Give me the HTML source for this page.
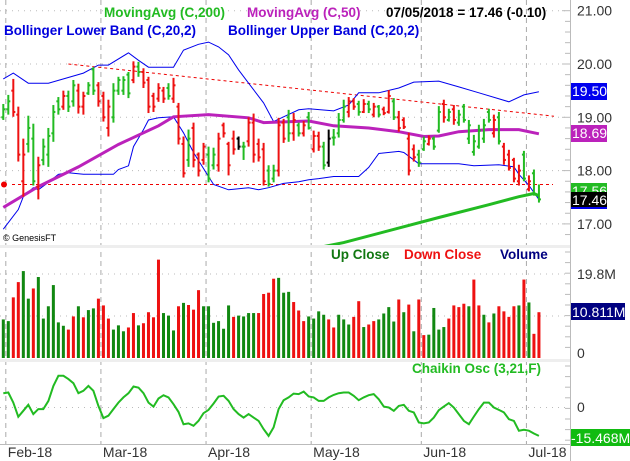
<!DOCTYPE html>
<html><head><meta charset="utf-8"><style>
body{margin:0;background:#fff;}
svg{display:block;font-family:"Liberation Sans",Arial,sans-serif;}
</style></head><body>
<svg id="chart" width="630" height="461" viewBox="0 0 630 461" xmlns="http://www.w3.org/2000/svg">
<defs>
<clipPath id="cp"><rect x="0" y="0" width="570" height="245"/></clipPath>
<clipPath id="cv"><rect x="0" y="248" width="570" height="111"/></clipPath>
<clipPath id="cc"><rect x="0" y="362" width="570" height="82"/></clipPath>
</defs>
<rect x="0" y="0" width="630" height="461" fill="#fff"/>
<g id="grid"></g>
<g id="overlays" clip-path="url(#cp)"></g>
<g id="bars" clip-path="url(#cp)"></g>
<g id="vol" clip-path="url(#cv)"></g>
<g id="chk" clip-path="url(#cc)"></g>
<g id="axes"></g>
<g font-weight="bold" font-size="13.5">
<text x="104" y="17" fill="#22bb22">MovingAvg (C,200)</text>
<text x="247" y="17" fill="#bb22bb">MovingAvg (C,50)</text>
<text x="386" y="17" fill="#000">07/05/2018 = 17.46 (-0.10)</text>
<text x="4" y="35" fill="#0000dd">Bollinger Lower Band (C,20,2)</text>
<text x="228" y="35" fill="#0000dd">Bollinger Upper Band (C,20,2)</text>
<text x="331" y="259" fill="#117711">Up Close</text>
<text x="404" y="259" fill="#ee1111">Down Close</text>
<text x="500" y="259" fill="#000080">Volume</text>
<text x="412" y="373" fill="#22bb22">Chaikin Osc (3,21,F)</text>
</g>
<text x="3" y="241" font-size="9" fill="#000">© GenesisFT</text>
</svg>
<script>
const hi=[19.25,19.42,19.72,19.2,18.6,19.03,18.88,18.26,18.6,18.8,19.23,19.38,19.5,19.5,19.7,19.63,19.48,19.66,19.94,19.66,19.48,19.33,19.64,19.76,19.77,19.85,20.05,20.04,19.92,19.76,19.46,19.64,19.57,19.64,19.74,19.27,18.64,18.77,18.9,18.34,18.52,18.45,18.43,18.71,18.9,18.54,18.75,18.64,18.54,19.0,19.07,18.6,18.52,18.1,18.11,18.99,18.97,19.14,19.08,18.9,18.93,19.1,18.75,18.73,18.54,18.77,18.78,19.08,19.33,19.38,19.36,19.31,19.34,19.31,19.27,19.23,19.2,19.51,19.36,19.12,19.0,18.71,18.49,18.39,18.64,18.66,18.64,19.21,19.33,19.16,19.23,19.14,19.25,18.95,18.67,18.86,18.97,19.16,19.05,19.1,18.52,18.39,18.24,18.11,18.37,17.91,18.02,17.74];
const lo=[18.95,19.05,19.01,18.17,17.51,18.34,17.72,17.46,18.1,18.07,18.54,19.05,19.14,19.1,19.2,19.07,19.05,19.42,19.42,19.2,18.92,18.64,18.9,19.42,19.42,19.36,19.64,19.76,19.55,19.08,19.1,19.29,19.27,19.33,19.27,18.49,17.87,18.07,18.06,17.89,18.11,17.78,18.02,17.98,18.62,17.91,18.3,18.39,18.2,18.45,18.15,18.17,17.72,17.7,17.78,17.89,18.52,18.54,18.56,18.64,18.64,18.77,18.34,18.37,18.02,18.07,18.47,18.62,18.9,19.0,19.14,19.03,19.08,19.08,19.0,19.0,19.04,19.07,18.95,18.73,18.78,17.91,18.17,18.07,18.37,18.47,18.39,18.71,18.9,18.92,18.86,18.84,18.9,18.5,18.28,18.41,18.52,18.9,18.62,18.49,18.11,18.0,17.78,17.72,17.8,17.61,17.53,17.4];
const op=[19.0,19.15,19.5,19.05,17.8,18.5,18.6,17.7,18.2,18.3,18.7,19.3,19.2,19.4,19.3,19.5,19.2,19.45,19.9,19.6,19.4,18.8,19.0,19.5,19.5,19.8,19.7,19.95,19.85,19.7,19.4,19.35,19.5,19.55,19.35,19.2,18.5,18.2,18.8,18.3,18.2,18.3,18.1,18.1,18.85,18.5,18.6,18.6,18.45,18.55,18.9,18.5,18.4,18.0,17.85,18.0,18.9,19.0,18.7,18.85,18.7,19.0,18.4,18.65,18.45,18.15,18.62,18.7,18.95,19.1,19.3,19.25,19.1,19.25,19.05,19.2,19.15,19.1,19.3,19.0,18.95,18.6,18.4,18.3,18.4,18.5,18.6,18.75,19.25,18.95,19.15,18.9,19.2,18.6,18.35,18.45,18.6,19.1,18.7,19.0,18.45,18.3,18.2,17.8,18.3,17.65,17.95,17.55];
const cl=[19.15,19.3,19.1,18.3,18.3,18.8,17.8,18.1,18.45,18.65,19.1,19.15,19.4,19.2,19.6,19.2,19.4,19.6,19.5,19.3,19.0,19.2,19.5,19.7,19.7,19.45,19.95,19.85,19.65,19.2,19.2,19.55,19.35,19.4,19.6,18.6,17.95,18.6,18.2,18.0,18.45,17.85,18.3,18.6,18.7,18.1,18.4,18.45,18.45,18.9,18.3,18.25,17.8,17.75,18.0,18.85,18.6,18.7,18.95,18.7,18.85,18.8,18.65,18.45,18.1,18.6,18.62,18.95,19.2,19.3,19.2,19.1,19.25,19.15,19.2,19.05,19.08,19.4,19.0,18.8,18.82,18.0,18.25,18.15,18.55,18.6,18.45,19.1,19.0,19.1,18.95,19.05,18.95,18.85,18.55,18.75,18.85,18.95,18.95,18.55,18.2,18.05,17.85,18.0,17.85,17.8,17.56,17.46];
const dir="uuddduuduuuuduudduuddduuuududdddduddduddduuddddnudddduuddudududdunuuuddudududdudddduuduududuuuuuuududddduduu".split("");
const vol=[9.1,8.7,14.3,17.9,20.5,14.0,16.4,19.1,9.3,12.2,17.2,8.4,7.6,6.7,9.8,12.2,9.6,11.3,11.7,14.0,12.4,9.3,6.7,7.7,6.3,7.2,10.6,7.7,8.2,10.8,9.6,23.2,10.6,10.0,6.5,12.2,13.0,12.5,11.4,16.0,12.2,12.2,8.3,8.7,6.9,12.4,9.7,10.0,9.8,10.6,10.6,10.6,15.1,15.4,18.7,18.9,15.4,15.6,13.2,11.2,8.7,9.8,9.3,11.0,10.2,9.1,7.2,10.2,9.1,7.9,9.7,13.4,7.3,7.9,8.7,9.1,10.5,12.0,8.6,13.8,10.8,12.6,6.3,13.8,5.4,5.5,11.8,6.7,7.3,9.3,12.4,12.0,12.8,12.2,18.5,12.4,10.2,8.4,10.5,12.2,11.0,9.7,12.2,12.4,18.5,13.1,5.7,10.8];
const volColor="ggrrggrggggggrrgrggrrrgggrrgrrrrgggrgrrrggggggrggggrrrrgggrrrggggrrgggrrgrrggggrgrgrrggggrrrrgrrgrgrrrrgrgrr".split("");
const chaikin=[7.8,8.2,2.7,-5.1,-1.8,1.5,-3.6,-0.9,-0.9,3.6,11.8,17.3,17.3,15.5,13.3,7.8,9.1,11.8,9.1,0.9,-5.8,-4.5,-0.9,2.7,5.5,7.8,11.5,10.9,7.8,2.7,0.5,4.9,6.7,5.5,1.8,-2.4,-9.1,-8.7,-10.0,-7.3,-3.1,-1.3,2.2,6.0,6.4,3.6,-0.9,-3.6,-5.5,-3.6,-5.5,-7.3,-11.8,-15.5,-10.9,-0.9,4.0,5.5,7.6,7.3,8.7,6.0,5.5,3.6,3.6,5.5,6.9,7.8,8.2,8.2,6.4,4.0,5.5,6.7,7.3,4.5,0.5,0,-1.8,0.9,1.5,-1.8,-2.7,-8.2,-8.7,-8.2,-5.5,-1.5,0.5,2.4,0,-3.6,-7.3,-9.1,-4.9,-0.9,2.7,2.7,0,-1.3,-2.7,-6.4,-7.3,-12.7,-12.2,-12.7,-14.2,-15.5];
const ma50Idx=[0,7,15,23,31,34,41,49,52,61,66,73,79,84,87,91,97,103,107];
const ma50Val=[17.31,17.70,18.07,18.49,18.84,19.01,19.05,18.99,18.90,18.93,18.84,18.80,18.73,18.64,18.65,18.73,18.77,18.77,18.69];
const ma200Idx=[60,68,87,97,103,106,107];
const ma200Val=[16.5,16.65,17.12,17.36,17.51,17.57,17.53];
const upIdx=[0,2,5,9,16,19,21,25,27,29,34,36,39,41,43,45,47,49,52,54,56,59,61,66,69,71,75,79,82,87,91,95,101,104,107];
const upVal=[19.72,19.83,19.64,19.64,19.83,19.98,19.98,20.21,20.07,19.94,19.94,20.26,20.37,20.41,20.32,20.17,19.89,19.64,19.27,18.92,19.01,19.14,19.16,19.12,19.23,19.46,19.46,19.55,19.66,19.68,19.57,19.46,19.29,19.42,19.48];
const lowIdx=[0,3,4,6,7,9,11,13,16,22,23,25,26,28,29,31,34,36,38,41,42,45,49,51,53,56,59,61,63,66,71,73,75,79,80,83,86,91,94,99,102,103,105,107];
const lowVal=[16.90,17.27,17.51,17.68,17.64,17.78,17.93,17.96,17.93,17.93,18.02,18.09,18.45,18.77,18.95,18.99,19.01,18.71,18.34,17.89,17.74,17.64,17.68,17.64,17.68,17.76,17.79,17.83,17.85,17.89,17.89,18.06,18.32,18.36,18.34,18.13,18.13,18.13,18.09,18.11,18.07,17.93,17.72,17.46];
const priceTicks=[21,20,19,18,17];
const priceTickLabels=["21.00","20.00","19.00","18.00","17.00"];
const monthIdx=[0.5,19.5,40.5,61.5,83.5,104.5];
const monthLabels=["Feb-18","Mar-18","Apr-18","May-18","Jun-18","Jul-18"];
const trendIdx=[13,110];const trendVal=[20.0,19.02];
const supportVal=17.74;

const NS="http://www.w3.org/2000/svg";
const X=i=>3.3+i*5.006;
const PY=p=>64+(20-p)*53.3;
const VY=v=>358-v*4.24;
const CY=c=>407.5-c*1.83;
function mk(t,a,parent){const e=document.createElementNS(NS,t);for(const k in a)e.setAttribute(k,a[k]);parent.appendChild(e);return e;}
const G=id=>document.getElementById(id);
const grid=G('grid'),ov=G('overlays'),bars=G('bars'),volg=G('vol'),chk=G('chk'),axes=G('axes');

// grid
priceTicks.forEach(p=>{const l=mk('line',{x1:0,x2:570,y1:PY(p),y2:PY(p),stroke:'#bbb','stroke-dasharray':'1,5'},grid);

});
[19.8,9.9].forEach(v=>{const l=mk('line',{x1:0,x2:570,y1:VY(v),y2:VY(v),stroke:'#bbb','stroke-dasharray':'1,5'},grid);

});
{const l=mk('line',{x1:0,x2:570,y1:CY(0),y2:CY(0),stroke:'#bbb','stroke-dasharray':'1,5'},grid);

}
monthIdx.forEach((m,k)=>{const x=X(m);const l=mk('line',{x1:x,x2:x,y1:0,y2:444,stroke:'#aaa','stroke-dasharray':'5,4'},grid);


const t=mk('text',{x:x+2,y:457,'font-size':14,fill:'#333'},axes);t.textContent=monthLabels[k];

});
// separators
[246,360].forEach(y=>{const r=mk('rect',{x:0,y:y-1,width:570,height:3,fill:'#eee'},grid);

});
{const r=mk('line',{x1:0,x2:570,y1:444.5,y2:444.5,stroke:'#bbb'},grid);

}

// overlays
function poly(idx,val,color,w,name,dash){const pts=idx.map((ii,k)=>X(ii).toFixed(1)+','+PY(val[k]).toFixed(1)).join(' ');
const e=mk('polyline',{points:pts,fill:'none',stroke:color,'stroke-width':w},ov);if(dash)e.setAttribute('stroke-dasharray',dash);

}
poly(trendIdx,trendVal,'#e00',1,'resistance-trendline','3,3');
{const e=mk('line',{x1:12,x2:553,y1:PY(supportVal),y2:PY(supportVal),stroke:'#e00','stroke-dasharray':'3,3'},ov);


const c=mk('circle',{cx:4,cy:PY(supportVal),r:3,fill:'#e00'},ov);

}
poly(upIdx,upVal,'#0000ee',1,'bollinger-upper-band');
poly(lowIdx,lowVal,'#0000ee',1,'bollinger-lower-band');
poly(ma50Idx,ma50Val,'#bb22bb',3,'ma50-line');
poly(ma200Idx,ma200Val,'#22bb22',3,'ma200-line');

// price bars
const colOf=d=>d==='u'?'#22bb22':d==='d'?'#ee1111':'#000';
hi.forEach((h,i)=>{const x=X(i),c=colOf(dir[i]);
const g=mk('g',{},bars);


mk('line',{x1:x,x2:x,y1:PY(h),y2:PY(lo[i]),stroke:c,'stroke-width':2},g);
mk('line',{x1:x-2,x2:x,y1:PY(op[i]),y2:PY(op[i]),stroke:c,'stroke-width':2},g);
mk('line',{x1:x,x2:x+2,y1:PY(cl[i]),y2:PY(cl[i]),stroke:c,'stroke-width':2},g);});

// volume
vol.forEach((v,i)=>{const r=mk('rect',{x:X(i)-1.5,y:VY(v),width:3,height:358-VY(v),fill:volColor[i]==='g'?'#118811':'#ee1111'},volg);

});

// chaikin
{const e=mk('polyline',{points:chaikin.map((c,i)=>X(i).toFixed(1)+','+CY(c).toFixed(1)).join(' '),fill:'none',stroke:'#22bb22','stroke-width':2},chk);

}

// right axis
{const l=mk('line',{x1:570.5,x2:570.5,y1:0,y2:461,stroke:'#bbb'},axes);

}
for(let p=16.6;p<=21.2;p+=0.2){const y=PY(p);if(y<2||y>244)continue;const major=Math.abs(p-Math.round(p))<0.01;
mk('line',{x1:major?562:565,x2:570,y1:y,y2:y,stroke:'#bbb'},axes);}
for(let y=252;y<358;y+=10.6)mk('line',{x1:565,x2:570,y1:y,y2:y,stroke:'#bbb'},axes);
for(let y=366;y<444;y+=10.6)mk('line',{x1:565,x2:570,y1:y,y2:y,stroke:'#bbb'},axes);
priceTicks.forEach((p,k)=>{const t=mk('text',{x:577,y:PY(p)+5,'font-size':14,fill:'#333'},axes);t.textContent=priceTickLabels[k];

});
function lab(txt,y,tx,ty,w,bg,name){const r=mk('rect',{x:571,y:y,width:w,height:17,fill:bg},axes);


const t=mk('text',{x:tx,y:ty,'font-size':14,fill:'#fff'},axes);t.textContent=txt;

}
{const t=mk('text',{x:577,y:279,'font-size':14,fill:'#333'},axes);t.textContent='19.8M';

}
{const t=mk('text',{x:577,y:358,'font-size':14,fill:'#333'},axes);t.textContent='0';

}
{const t=mk('text',{x:577,y:412,'font-size':14,fill:'#333'},axes);t.textContent='0';

}
lab('19.50',83,572,96,36,'#0000ee','upper-band-value');
lab('18.69',125,572,138,36,'#bb22bb','ma50-value');
lab('17.56',183,572,196,36,'#22bb22','ma200-value');
lab('17.46',192,572,205,36,'#000','last-price-value');
{const r=mk('rect',{x:571,y:207,width:36,height:2,fill:'#0000ee'},axes);}
lab('10.811M',303,572,317,54,'#000080','volume-value');
lab('-15.468M',429,571,443,59,'#11bb11','chaikin-value');
</script>
</body></html>
